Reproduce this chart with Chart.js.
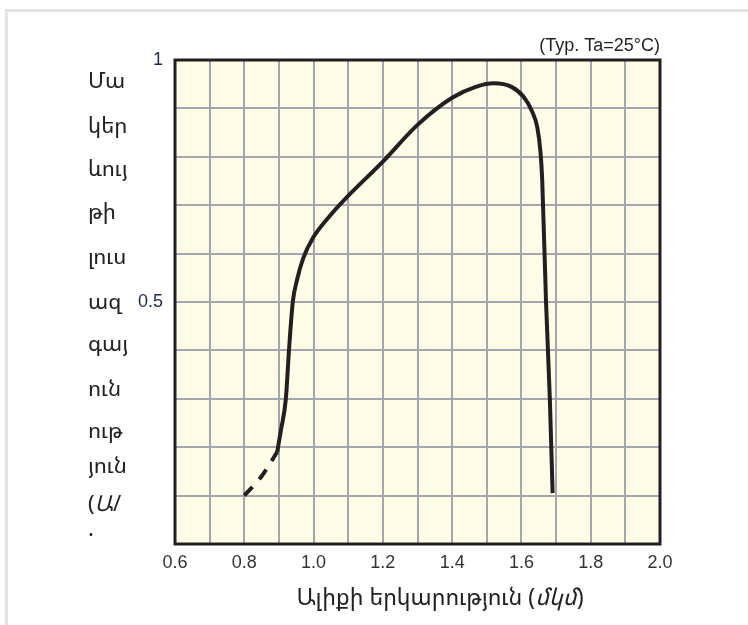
<!DOCTYPE html>
<html>
<head>
<meta charset="utf-8">
<script src="https://cdn.jsdelivr.net/npm/chart.js@4"></script>
<style>
  body { margin: 0; background: #fff; }
  #wrap { position: relative; width: 748px; height: 625px; }
  #frame { position: absolute; left: 5px; top: 9px; right: -10px; bottom: -10px;
           border-top: 3px solid #e4e4e4; border-left: 3px solid #e4e4e4; }
</style>
</head>
<body>
<div id="wrap">
  <div id="frame"></div>
  <canvas id="grafico"></canvas>
</div>
<script>
// wavelength (um) and relative sensitivity
const dashX = [0.80, 0.85, 0.895];
const dashY = [0.10, 0.14, 0.19];
const curveX = [0.895, 0.906, 0.92, 0.929, 0.94, 0.952, 0.97, 0.998, 1.04, 1.09, 1.2, 1.3, 1.4, 1.47, 1.52, 1.57, 1.605, 1.63, 1.646, 1.655, 1.66, 1.671, 1.682, 1.69];
const curveY = [0.19, 0.236, 0.30, 0.40, 0.50, 0.545, 0.59, 0.632, 0.672, 0.712, 0.79, 0.866, 0.922, 0.945, 0.952, 0.945, 0.925, 0.895, 0.86, 0.81, 0.752, 0.50, 0.30, 0.105];
const xTicks = [0.6, 0.8, 1.0, 1.2, 1.4, 1.6, 1.8, 2.0];
const yTicks = [0.5, 1];

const yTitleLines = ['Մա', 'կեր', 'ևույ', 'թի', 'լուս', 'ազ', 'գայ', 'ուն', 'ութ', 'յուն', '(Ա/', '.'];
const yTitlePos = [82, 127, 170, 213, 258, 303, 345, 390, 432, 467, 505, 530];
const note = '(Typ. Ta=25°C)';

const ink = '#231f20';
const armFont = "'Noto Sans Armenian', 'DejaVu Sans', sans-serif";
const latFont = "'Liberation Sans', Arial, sans-serif";

const toPts = (xs, ys) => xs.map((x, i) => ({ x, y: ys[i] }));
const near = (a, list) => list.some(v => Math.abs(v - a) < 1e-6);

const extras = {
    id: 'extras',
    beforeDraw(chart) {
        const { ctx, chartArea: a } = chart;
        ctx.save();
        ctx.fillStyle = '#fffde8';
        ctx.fillRect(a.left, a.top, a.right - a.left, a.bottom - a.top);
        ctx.restore();
    },
    afterDraw(chart) {
        const { ctx, chartArea: a } = chart;
        ctx.save();
        ctx.strokeStyle = ink;
        ctx.lineWidth = 3;
        ctx.strokeRect(a.left, a.top, a.right - a.left, a.bottom - a.top);

        ctx.fillStyle = ink;
        ctx.font = '18px ' + latFont;
        ctx.textAlign = 'right';
        ctx.textBaseline = 'middle';
        ctx.fillText(note, a.right, a.top - 14);

        // y title, stacked in short lines
        ctx.textAlign = 'left';
        ctx.fillStyle = '#222';
        yTitleLines.forEach((t, i) => {
            if (t === '(Ա/') {
                ctx.font = '22px ' + armFont;
                ctx.fillText('(', 88, yTitlePos[i]);
                let w = ctx.measureText('(').width;
                ctx.font = 'italic 22px ' + armFont;
                ctx.fillText('Ա', 88 + w, yTitlePos[i]);
                w += ctx.measureText('Ա').width;
                ctx.font = '22px ' + armFont;
                ctx.fillText('/', 88 + w, yTitlePos[i]);
            } else {
                ctx.font = '22px ' + armFont;
                ctx.fillText(t, 88, yTitlePos[i]);
            }
        });

        // x title with italic unit
        const parts = [['Ալիքի երկարություն (', ''], ['մկմ', 'italic '], [')', '']];
        let total = 0;
        parts.forEach(p => { ctx.font = p[1] + '23px ' + armFont; total += ctx.measureText(p[0]).width; });
        let x = 440 - total / 2;
        parts.forEach(p => {
            ctx.font = p[1] + '23px ' + armFont;
            ctx.fillText(p[0], x, 598);
            x += ctx.measureText(p[0]).width;
        });
        ctx.restore();
    }
};

const ctx = document.getElementById('grafico').getContext('2d');
new Chart(ctx, {
    type: 'line',
    data: {
        datasets: [{
            data: toPts(dashX, dashY),
            borderColor: ink,
            borderWidth: 4,
            borderDash: [12, 10],
            pointRadius: 0,
            tension: 0.3
        }, {
            data: toPts(curveX, curveY),
            borderColor: ink,
            borderWidth: 4,
            pointRadius: 0,
            cubicInterpolationMode: 'monotone'
        }]
    },
    options: {
        responsive: true,
        maintainAspectRatio: false,
        animation: false,
        layout: { padding: { left: 0, right: 88, top: 60, bottom: 0 } },
        plugins: { legend: { display: false }, tooltip: { enabled: false } },
        scales: {
            x: {
                type: 'linear',
                min: 0.6,
                max: 2.0,
                afterFit: s => { s.height = 81; },
                border: { display: false },
                grid: { color: '#a3a7ad', lineWidth: 2, drawTicks: false },
                ticks: {
                    stepSize: 0.1,
                    padding: 8,
                    color: '#333',
                    font: { family: latFont, size: 18 },
                    maxRotation: 0,
                    autoSkip: false,
                    callback: v => near(v, xTicks) ? v.toFixed(1) : ''
                }
            },
            y: {
                min: 0,
                max: 1,
                afterFit: s => { s.width = 175; },
                border: { display: false },
                grid: { color: '#a3a7ad', lineWidth: 2, drawTicks: false },
                ticks: {
                    stepSize: 0.1,
                    padding: 12,
                    color: '#1d2a44',
                    font: { family: latFont, size: 18 },
                    autoSkip: false,
                    callback: v => near(v, yTicks) ? String(v) : ''
                }
            }
        }
    },
    plugins: [extras]
});
</script>
</body>
</html>
